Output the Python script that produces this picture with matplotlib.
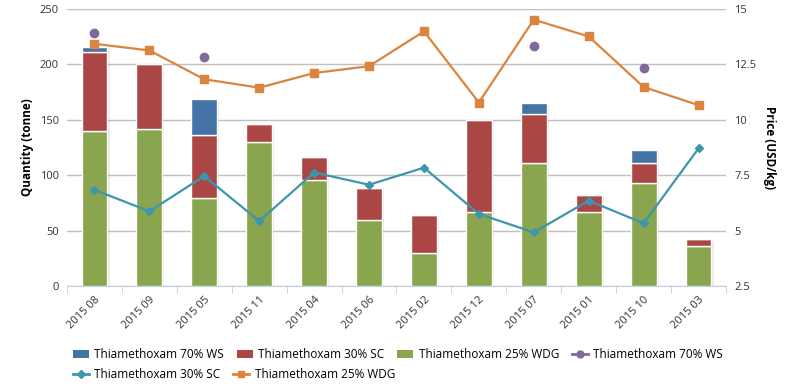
import matplotlib
matplotlib.use("Agg")
import matplotlib.pyplot as plt
import numpy as np
from matplotlib.lines import Line2D
from matplotlib.patches import Patch

categories = ["2015 08", "2015 09", "2015 05", "2015 11", "2015 04", "2015 06",
              "2015 02", "2015 12", "2015 07", "2015 01", "2015 10", "2015 03"]
qty_ws70 = [5, 0, 33, 0, 0, 0, 0, 0, 10, 0, 12, 0]
qty_sc30 = [71, 58, 57, 16, 20, 28, 34, 83, 44, 15, 18, 6]
qty_wdg25 = [140, 142, 79, 130, 96, 60, 30, 67, 111, 67, 93, 36]
price_ws70 = [13.9, np.nan, 12.85, np.nan, np.nan, np.nan, np.nan, np.nan, 13.34, np.nan, 12.33, np.nan]
price_sc30 = [6.84, 5.87, 7.46, 5.43, 7.62, 7.07, 7.84, 5.75, 4.92, 6.35, 5.33, 8.71]
price_wdg25 = [13.43, 13.13, 11.83, 11.45, 12.11, 12.42, 13.99, 10.78, 14.52, 13.76, 11.48, 10.66]
left_ticks = [0, 50, 100, 150, 200, 250]
right_ticks = [2.5, 5, 7.5, 10, 12.5, 15]
right_tick_labels = ["2.5", "5", "7.5", "10", "12.5", "15"]
names = ["Thiamethoxam 70% WS", "Thiamethoxam 30% SC", "Thiamethoxam 25% WDG"]

c_blue, c_red, c_green = "#4572A7", "#AA4643", "#89A54E"
c_purple, c_teal, c_orange = "#80699B", "#3D96AE", "#DB843D"

plt.rcParams['font.family'] = ['Open Sans', 'DejaVu Sans']
fig = plt.figure(figsize=(7.92, 3.92), dpi=100)
ax = fig.add_axes([67/792, 1-286/392, (726-67)/792, (286-9)/392])
x = np.arange(len(categories))
w = 0.47
g = np.array(qty_wdg25); r = np.array(qty_sc30); b = np.array(qty_ws70)
kw = dict(width=w, edgecolor="white", linewidth=1.0, zorder=3)
# shadow
ax.bar(x + 0.04, g + r + b, width=w, color="#000000", alpha=0.08, zorder=2, bottom=-1)
ax.bar(x, g, color=c_green, **kw)
ax.bar(x, r, bottom=g, color=c_red, **kw)
ax.bar(x, b, bottom=g + r, color=c_blue, **kw)

ax.set_xlim(-0.5, len(categories) - 0.5)
ax.set_ylim(0, 250)
ax.set_yticks(left_ticks)
ax.yaxis.grid(True, color="#C0C0C0", linewidth=1.0, zorder=0)
ax.set_axisbelow(True)
for s in ["left", "right", "top"]:
    ax.spines[s].set_visible(False)
ax.spines["bottom"].set_color("#C0D0E0")
ax.tick_params(axis="y", length=0, labelsize=8, colors="#333333", pad=6)
ax.set_xticks(x)
ax.set_xticklabels(categories, rotation=45, ha="right", rotation_mode="anchor", fontsize=8, color="#333333")
ax.tick_params(axis="x", length=0, pad=6)
ax.set_xticks(np.arange(len(categories) + 1) - 0.5, minor=True)
ax.tick_params(axis="x", which="minor", length=5, color="#C0D0E0")
ax.set_ylabel("Quantity (tonne)", fontsize=8.5, fontweight="bold", color="#000000", labelpad=4)

ax2 = ax.twinx()
ax2.set_ylim(2.5, 15)
ax2.set_yticks(right_ticks)
ax2.set_yticklabels(right_tick_labels)
for s in ["left", "right", "top", "bottom"]:
    ax2.spines[s].set_visible(False)
ax2.tick_params(axis="y", length=0, labelsize=8, colors="#333333", pad=6)
ax2.set_ylabel("Price (USD/kg)", fontsize=8.5, fontweight="bold", rotation=270, labelpad=14, color="#000000")
ax2.plot(x, price_wdg25, color=c_orange, linewidth=1.6, marker="s", markersize=5.5, zorder=5)
ax2.plot(x, price_sc30, color=c_teal, linewidth=1.6, marker="D", markersize=4.5, zorder=5)
ax2.plot(x, price_ws70, color=c_purple, linewidth=0, marker="o", markersize=6, zorder=5)

row1 = [
    Patch(facecolor=c_blue, edgecolor="none"),
    Patch(facecolor=c_red, edgecolor="none"),
    Patch(facecolor=c_green, edgecolor="none"),
    Line2D([], [], color=c_purple, lw=2, marker="o", markersize=5),
]
row2 = [
    Line2D([], [], color=c_teal, lw=2, marker="D", markersize=4),
    Line2D([], [], color=c_orange, lw=2, marker="s", markersize=5),
]
common = dict(loc="upper left", frameon=False, fontsize=8.5, handlelength=1.35,
              handletextpad=0.45, columnspacing=1.1, borderaxespad=0, borderpad=0)
leg1 = fig.legend(row1, names + names[:1], bbox_to_anchor=(73/792, 1-348/392), ncol=4, **common)
leg2 = fig.legend(row2, names[1:], bbox_to_anchor=(73/792, 1-368/392), ncol=2, **common)
fig.savefig("out.png", dpi=100)
